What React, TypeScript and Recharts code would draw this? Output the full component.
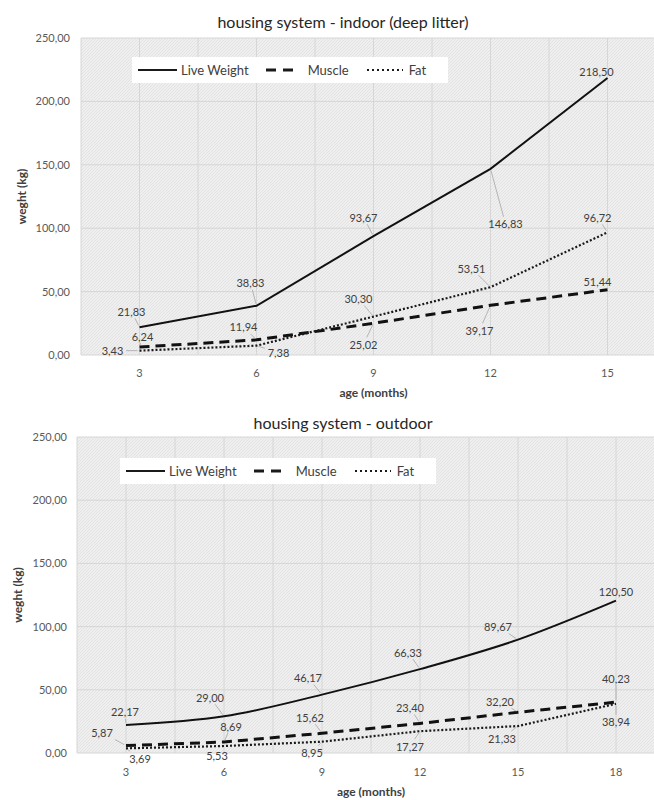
import React from 'react';
import { LineChart, Line, XAxis, YAxis, CartesianGrid, LabelList } from 'recharts';

const ages1 = ['3', '6', '9', '12', '15'];
const live1 = [21.83, 38.83, 93.67, 146.83, 218.5];
const muscle1 = [6.24, 11.94, 25.02, 39.17, 51.44];
const fat1 = [3.43, 7.38, 30.3, 53.51, 96.72];

const ages2 = ['3', '6', '9', '12', '15', '18'];
const live2 = [22.17, 29.0, 46.17, 66.33, 89.67, 120.5];
const muscle2 = [5.87, 8.69, 15.62, 23.4, 32.2, 40.23];
const fat2 = [3.69, 5.53, 8.95, 17.27, 21.33, 38.94];

const yTicks = [0, 50, 100, 150, 200, 250];

// label placement (styling only: pixel offsets of each data label from its point)
const off1: Record<string, number[][]> = {
  live: [[-8, -16], [-6, -23], [-10, -19], [15, 55], [-11, -6]],
  muscle: [[3, -11], [-13, -13], [-10, 21], [-11, 25], [-10, -8]],
  fat: [[-27, 0], [22, 7], [-15, -18], [-19, -19], [-10, -15]],
};
const off2: Record<string, number[][]> = {
  live: [[-1, -13], [-14, -19], [-14, -17], [-12, -17], [-20, -13], [0, -9]],
  muscle: [[-24, -13], [7, -16], [-12, -16], [-10, -16], [-18, -11], [0, -24]],
  fat: [[14, 10], [-7, 9], [-10, 11], [-10, 15], [-16, 12], [0, 18]],
};

const FONT = 'Lato, "Open Sans", sans-serif';
const fmt = (v: number) => Number(v).toFixed(2).replace('.', ',');

const build = (ages: string[], live: number[], muscle: number[], fat: number[]) =>
  ages.map((a, i) => ({ age: a, live: live[i], muscle: muscle[i], fat: fat[i] }));

const data1 = build(ages1, live1, muscle1, fat1);
const data2 = build(ages2, live2, muscle2, fat2);

const makeLabel = (offsets: number[][]) => (props: any) => {
  const cx = props.x ?? props.viewBox?.x;
  const cy = props.y ?? props.viewBox?.y;
  const idx = props.index ?? 0;
  if (cx == null || cy == null) return null;
  const [dx, dy] = offsets[idx] || [0, -10];
  const txt = fmt(props.value);
  const tx = cx + dx;
  const ty = cy + dy;
  const hw = txt.length * 2.9 + 2;
  const hh = 7;
  let leader = null;
  const ax = Math.abs(dx);
  const ay = Math.abs(dy);
  const t = Math.min(ax > 0 ? hw / ax : Infinity, ay > 0 ? hh / ay : Infinity);
  if (t < 0.75) {
    const sx = tx - dx * t;
    const sy = ty - dy * t;
    const d = Math.hypot(dx, dy);
    const ex = cx + (dx / d) * 2;
    const ey = cy + (dy / d) * 2;
    leader = <line x1={sx} y1={sy} x2={ex} y2={ey} stroke="#a6a6a6" strokeWidth={0.8} />;
  }
  return (
    <g key={`lbl-${idx}`}>
      {leader}
      <text x={tx} y={ty} textAnchor="middle" dominantBaseline="central" fontSize={11} fill="#404040" fontFamily={FONT}>
        {txt}
      </text>
    </g>
  );
};

const LegendBox = ({ left, top }: { left: number; top: number }) => (
  <div
    style={{
      position: 'absolute',
      left,
      top,
      background: '#ffffff',
      height: 26,
      width: 316,
      display: 'flex',
      alignItems: 'center',
      fontFamily: FONT,
      fontSize: 13,
      color: '#404040',
      boxSizing: 'border-box',
      paddingLeft: 6,
      whiteSpace: 'nowrap',
      zIndex: 2,
    }}
  >
    <svg width={39} height={6}>
      <line x1={0} y1={3} x2={39} y2={3} stroke="#1a1a1a" strokeWidth={2} />
    </svg>
    <span style={{ marginLeft: 4 }}>Live Weight</span>
    <svg width={27} height={6} style={{ marginLeft: 17 }}>
      <line x1={0} y1={3} x2={27} y2={3} stroke="#1a1a1a" strokeWidth={3} strokeDasharray="10 7" />
    </svg>
    <span style={{ marginLeft: 15 }}>Muscle</span>
    <svg width={36} height={6} style={{ marginLeft: 18 }}>
      <line x1={0} y1={3} x2={36} y2={3} stroke="#1a1a1a" strokeWidth={2} strokeDasharray="2 3" />
    </svg>
    <span style={{ marginLeft: 6 }}>Fat</span>
  </div>
);

type PanelProps = {
  data: any[];
  title: string;
  offs: Record<string, number[][]>;
  top: number;
  marginTop: number;
  marginRight: number;
  yWidth: number;
  axisHeight: number;
  tickMarginX: number;
  tickMarginY: number;
  xLabelOffset: number;
  yLabelOffset: number;
  smoothLive: boolean;
  legendLeft: number;
  legendTop: number;
  titleTop: number;
};

const Panel = (p: PanelProps) => {
  const n = p.data.length;
  const vGen = ({ offset }: any) => {
    const pts: number[] = [];
    const band = offset.width / n;
    for (let k = 0; k <= 2 * n; k++) pts.push(offset.left + (k * band) / 2);
    return pts;
  };
  return (
    <div style={{ position: 'absolute', left: 0, top: p.top, width: 670, height: 400 }}>
      <div
        style={{
          position: 'absolute',
          left: 0,
          width: 686,
          top: p.titleTop - 11,
          height: 22,
          lineHeight: '22px',
          textAlign: 'center',
          fontFamily: FONT,
          fontSize: 16,
          color: '#262626',
        }}
      >
        {p.title}
      </div>
      <div style={{ position: 'absolute', left: 0, top: 0 }}>
        <LineChart
          width={670}
          height={400}
          data={p.data}
          margin={{ top: p.marginTop, right: p.marginRight, bottom: 0, left: 0 }}
        >
          <CartesianGrid
            fill="url(#hatch)"
            fillOpacity={1}
            stroke="#d6d6d6"
            strokeWidth={1}
            verticalCoordinatesGenerator={vGen}
          />
          <XAxis
            dataKey="age"
            scale="band"
            height={p.axisHeight}
            axisLine={false}
            tickLine={false}
            tickMargin={p.tickMarginX}
            tick={{ fontSize: 11, fill: '#595959', fontFamily: FONT }}
            label={{
              value: 'age (months)',
              position: 'insideBottom',
              offset: p.xLabelOffset,
              style: { fontSize: 12, fontWeight: 700, fill: '#404040', fontFamily: FONT },
            }}
          />
          <YAxis
            width={p.yWidth}
            domain={[0, 250]}
            ticks={yTicks}
            interval={0}
            axisLine={false}
            tickLine={false}
            tickMargin={p.tickMarginY}
            tickFormatter={fmt}
            tick={{ fontSize: 11, fill: '#595959', fontFamily: FONT }}
            label={{
              value: 'weght (kg)',
              angle: -90,
              position: 'insideLeft',
              offset: p.yLabelOffset,
              style: { textAnchor: 'middle', fontSize: 12, fontWeight: 700, fill: '#404040', fontFamily: FONT },
            }}
          />
          <Line
            dataKey="live"
            name="Live Weight"
            type={p.smoothLive ? 'monotone' : 'linear'}
            stroke="#111111"
            strokeWidth={2}
            dot={false}
            activeDot={false}
            isAnimationActive={false}
          >
            <LabelList dataKey="live" content={makeLabel(p.offs.live)} />
          </Line>
          <Line
            dataKey="muscle"
            name="Muscle"
            type="linear"
            stroke="#111111"
            strokeWidth={3}
            strokeDasharray="10 6"
            dot={false}
            activeDot={false}
            isAnimationActive={false}
          >
            <LabelList dataKey="muscle" content={makeLabel(p.offs.muscle)} />
          </Line>
          <Line
            dataKey="fat"
            name="Fat"
            type="linear"
            stroke="#1a1a1a"
            strokeWidth={2.2}
            strokeDasharray="2 2"
            dot={false}
            activeDot={false}
            isAnimationActive={false}
          >
            <LabelList dataKey="fat" content={makeLabel(p.offs.fat)} />
          </Line>
        </LineChart>
      </div>
      <LegendBox left={p.legendLeft} top={p.legendTop} />
    </div>
  );
};

export default function App() {
  return (
    <div
      style={{
        position: 'absolute',
        left: 0,
        top: 0,
        width: 654,
        height: 800,
        overflow: 'hidden',
        background: '#ffffff',
      }}
    >
      <svg width={0} height={0} style={{ position: 'absolute' }}>
        <defs>
          <pattern id="hatch" width="3" height="3" patternUnits="userSpaceOnUse">
            <rect x="0" y="0" width="3" height="3" fill="#efefef" />
            <path d="M-1,1 L1,-1 M0,3 L3,0 M2,4 L4,2" stroke="#dadada" strokeWidth={0.6} />
          </pattern>
        </defs>
      </svg>
      <Panel
        data={data1}
        title="housing system - indoor (deep litter)"
        offs={off1}
        top={0}
        marginTop={38}
        marginRight={4}
        yWidth={81}
        axisHeight={45}
        tickMarginX={8}
        tickMarginY={5}
        xLabelOffset={3}
        yLabelOffset={22}
        smoothLive={false}
        legendLeft={132}
        legendTop={57}
        titleTop={22}
      />
      <Panel
        data={data2}
        title="housing system - outdoor"
        offs={off2}
        top={400}
        marginTop={37}
        marginRight={5}
        yWidth={77}
        axisHeight={47}
        tickMarginX={9}
        tickMarginY={4}
        xLabelOffset={4}
        yLabelOffset={18}
        smoothLive={true}
        legendLeft={120}
        legendTop={58}
        titleTop={23}
      />
    </div>
  );
}
